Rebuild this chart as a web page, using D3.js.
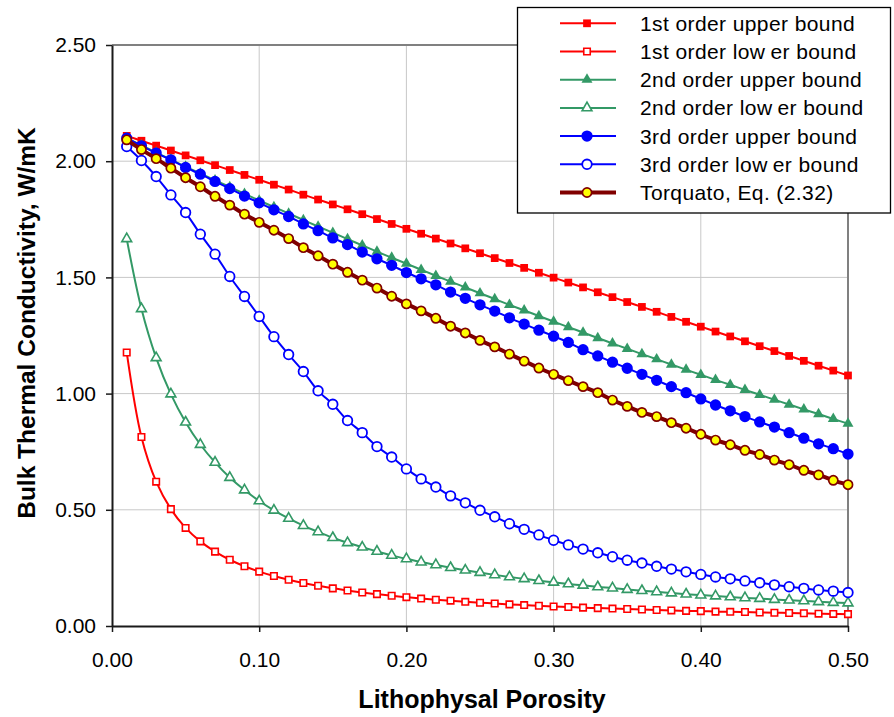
<!DOCTYPE html>
<html>
<head>
<meta charset="utf-8">
<script src="https://cdn.jsdelivr.net/npm/d3@7"></script>
<style>
  body { margin: 0; background: #ffffff; }
  svg { display: block; font-family: "Liberation Sans", Arial, sans-serif; }
</style>
</head>
<body>
<svg id="chart" width="894" height="717"></svg>
<script>
// Lithophysal porosity (volume fraction of voids)
const porosity = [
  0.01, 0.02, 0.03, 0.04, 0.05, 0.06, 0.07, 0.08, 0.09, 0.10,
  0.11, 0.12, 0.13, 0.14, 0.15, 0.16, 0.17, 0.18, 0.19, 0.20,
  0.21, 0.22, 0.23, 0.24, 0.25, 0.26, 0.27, 0.28, 0.29, 0.30,
  0.31, 0.32, 0.33, 0.34, 0.35, 0.36, 0.37, 0.38, 0.39, 0.40,
  0.41, 0.42, 0.43, 0.44, 0.45, 0.46, 0.47, 0.48, 0.49, 0.50
];

// Bulk thermal conductivity, W/mK
const firstUpper = [
  2.109, 2.088, 2.067, 2.046, 2.025, 2.004, 1.983, 1.962, 1.941, 1.920,
  1.899, 1.878, 1.856, 1.835, 1.814, 1.793, 1.772, 1.751, 1.730, 1.709,
  1.688, 1.667, 1.646, 1.625, 1.604, 1.583, 1.562, 1.541, 1.520, 1.499,
  1.478, 1.457, 1.436, 1.415, 1.394, 1.373, 1.352, 1.330, 1.309, 1.288,
  1.267, 1.246, 1.225, 1.204, 1.183, 1.162, 1.141, 1.120, 1.099, 1.078
];
const firstLower = [
  1.177, 0.813, 0.621, 0.503, 0.422, 0.364, 0.320, 0.285, 0.257, 0.234,
  0.215, 0.199, 0.185, 0.173, 0.162, 0.153, 0.144, 0.137, 0.130, 0.124,
  0.118, 0.113, 0.109, 0.104, 0.100, 0.097, 0.093, 0.090, 0.087, 0.084,
  0.082, 0.079, 0.077, 0.075, 0.073, 0.071, 0.069, 0.067, 0.065, 0.064,
  0.062, 0.061, 0.060, 0.058, 0.057, 0.056, 0.055, 0.053, 0.052, 0.051
];
const secondUpper = [
  2.099, 2.068, 2.037, 2.007, 1.977, 1.947, 1.918, 1.889, 1.860, 1.831,
  1.803, 1.775, 1.747, 1.719, 1.692, 1.665, 1.638, 1.611, 1.585, 1.559,
  1.533, 1.507, 1.482, 1.457, 1.432, 1.407, 1.382, 1.358, 1.334, 1.310,
  1.286, 1.263, 1.239, 1.216, 1.193, 1.170, 1.148, 1.125, 1.103, 1.081,
  1.059, 1.038, 1.016, 0.995, 0.974, 0.953, 0.932, 0.912, 0.891, 0.871
];
const secondLower = [
  1.666, 1.365, 1.154, 0.998, 0.877, 0.781, 0.704, 0.639, 0.585, 0.538,
  0.498, 0.463, 0.432, 0.405, 0.380, 0.358, 0.339, 0.321, 0.304, 0.289,
  0.275, 0.263, 0.251, 0.240, 0.230, 0.220, 0.211, 0.203, 0.195, 0.188,
  0.181, 0.175, 0.168, 0.163, 0.157, 0.152, 0.147, 0.142, 0.137, 0.133,
  0.129, 0.125, 0.121, 0.118, 0.114, 0.111, 0.108, 0.104, 0.101, 0.099
];
const thirdUpper = [
  2.099, 2.066, 2.035, 2.006, 1.973, 1.944, 1.913, 1.882, 1.850, 1.821,
  1.791, 1.762, 1.730, 1.701, 1.670, 1.641, 1.609, 1.580, 1.552, 1.521,
  1.494, 1.468, 1.437, 1.410, 1.382, 1.355, 1.326, 1.299, 1.273, 1.247,
  1.220, 1.189, 1.162, 1.135, 1.109, 1.083, 1.057, 1.030, 1.004, 0.977,
  0.951, 0.926, 0.901, 0.878, 0.856, 0.832, 0.808, 0.784, 0.763, 0.740
];
const thirdLower = [
  2.063, 2.003, 1.934, 1.855, 1.779, 1.686, 1.600, 1.504, 1.418, 1.332,
  1.245, 1.168, 1.095, 1.012, 0.954, 0.884, 0.832, 0.772, 0.727, 0.676,
  0.633, 0.598, 0.560, 0.530, 0.498, 0.470, 0.440, 0.416, 0.392, 0.369,
  0.349, 0.331, 0.315, 0.298, 0.283, 0.271, 0.257, 0.245, 0.233, 0.222,
  0.211, 0.203, 0.194, 0.186, 0.177, 0.169, 0.162, 0.155, 0.150, 0.144
];
const torquato = [
  2.092, 2.050, 2.011, 1.970, 1.929, 1.890, 1.849, 1.811, 1.772, 1.737,
  1.703, 1.667, 1.628, 1.593, 1.557, 1.522, 1.488, 1.454, 1.419, 1.386,
  1.356, 1.324, 1.290, 1.261, 1.229, 1.201, 1.170, 1.140, 1.110, 1.083,
  1.056, 1.030, 1.004, 0.972, 0.945, 0.919, 0.901, 0.875, 0.851, 0.825,
  0.800, 0.780, 0.756, 0.738, 0.714, 0.694, 0.670, 0.650, 0.627, 0.608
];

const xTicks = [0.00, 0.10, 0.20, 0.30, 0.40, 0.50];
const yTicks = [0.00, 0.50, 1.00, 1.50, 2.00, 2.50];
const xTitle = "Lithophysal Porosity";
const yTitle = "Bulk Thermal Conductivity, W/mK";

// Series definitions: label parts (the second part is offset a little, as the legend renders it), styling
const series = [
  { label: ["1st order upper bound"], values: firstUpper, color: "#ff0000", width: 2,
    symbol: d3.symbolSquare, size: 60, fill: "#ff0000", stroke: "none", sw: 0 },
  { label: ["1st order low", "er bound"], values: firstLower, color: "#ff0000", width: 2,
    symbol: d3.symbolSquare, size: 42, fill: "#ffffff", stroke: "#ff0000", sw: 1.6 },
  { label: ["2nd order upper bound"], values: secondUpper, color: "#339966", width: 2,
    symbol: d3.symbolTriangle, size: 52, fill: "#339966", stroke: "none", sw: 0 },
  { label: ["2nd order low", "er bound"], values: secondLower, color: "#339966", width: 2,
    symbol: d3.symbolTriangle, size: 42, fill: "#ffffff", stroke: "#339966", sw: 1.6 },
  { label: ["3rd order upper bound"], values: thirdUpper, color: "#0000ff", width: 2,
    symbol: d3.symbolCircle, size: 100, fill: "#0000ff", stroke: "none", sw: 0 },
  { label: ["3rd order low", "er bound"], values: thirdLower, color: "#0000ff", width: 2,
    symbol: d3.symbolCircle, size: 72, fill: "#ffffff", stroke: "#0000ff", sw: 1.8 },
  { label: ["Torquato, Eq. (2.32)"], values: torquato, color: "#800000", width: 4,
    symbol: d3.symbolCircle, size: 66, fill: "#ffff00", stroke: "#800000", sw: 1.7 }
];

const svg = d3.select("#chart");
const plot = { left: 112, right: 848, top: 45, bottom: 626 };

const x = d3.scaleLinear().domain([0, 0.5]).range([plot.left, plot.right]);
const y = d3.scaleLinear().domain([0, 2.5]).range([plot.bottom, plot.top]);

// Gridlines
const grid = svg.append("g").attr("stroke", "#c8c8c8").attr("stroke-width", 1);
grid.selectAll("line.v").data(xTicks.filter(d => d > 0 && d < 0.5)).join("line")
  .attr("x1", d => x(d)).attr("x2", d => x(d))
  .attr("y1", plot.top).attr("y2", plot.bottom);
grid.selectAll("line.h").data(yTicks.filter(d => d > 0 && d < 2.5)).join("line")
  .attr("x1", plot.left).attr("x2", plot.right)
  .attr("y1", d => y(d)).attr("y2", d => y(d));

// Plot-area frame (top and right)
svg.append("path")
  .attr("d", `M${plot.left},${y(2.5)}H${x(0.5)}V${plot.bottom}`)
  .attr("fill", "none").attr("stroke", "#808080").attr("stroke-width", 2);

// Axes
const fmt = d3.format(".2f");
const yAxis = svg.append("g").attr("transform", `translate(${plot.left},0)`)
  .call(d3.axisLeft(y).tickValues(yTicks).tickFormat(fmt).tickSize(6).tickSizeOuter(0).tickPadding(10));
const xAxis = svg.append("g").attr("transform", `translate(0,${plot.bottom})`)
  .call(d3.axisBottom(x).tickValues(xTicks).tickFormat(fmt).tickSize(6).tickSizeOuter(0).tickPadding(20));
[xAxis, yAxis].forEach(a => {
  a.select(".domain").attr("stroke", "#1a1a1a").attr("stroke-width", 2);
  a.selectAll(".tick line").attr("stroke", "#1a1a1a").attr("stroke-width", 1.5);
  a.selectAll(".tick text").attr("font-size", 21).attr("fill", "#000")
    .attr("font-family", "'Liberation Sans', Arial, sans-serif");
});

// Axis titles
svg.append("text")
  .attr("x", 482).attr("y", 708)
  .attr("text-anchor", "middle").attr("font-size", 25).attr("font-weight", "bold")
  .text(xTitle);
svg.append("text")
  .attr("transform", "translate(35,323) rotate(-90)")
  .attr("text-anchor", "middle").attr("font-size", 24.5).attr("font-weight", "bold")
  .text(yTitle);

// Series: smoothed line plus markers
const line = d3.line()
  .x((d, i) => x(porosity[i]))
  .y(d => y(d))
  .curve(d3.curveCatmullRom.alpha(0.5));

series.forEach(s => {
  const g = svg.append("g");
  g.append("path")
    .attr("d", line(s.values))
    .attr("fill", "none").attr("stroke", s.color).attr("stroke-width", s.width)
    .attr("stroke-linejoin", "round");
  g.selectAll("path.m").data(s.values).join("path")
    .attr("class", "m")
    .attr("transform", (d, i) => `translate(${x(porosity[i])},${y(d)})`)
    .attr("d", d3.symbol().type(s.symbol).size(s.size))
    .attr("fill", s.fill).attr("stroke", s.stroke).attr("stroke-width", s.sw);
});

// Legend
const legend = svg.append("g");
legend.append("rect")
  .attr("x", 517.5).attr("y", 7.5).attr("width", 373).attr("height", 205.5)
  .attr("fill", "#ffffff").attr("stroke", "#000000").attr("stroke-width", 1.3);
series.forEach((s, i) => {
  const cy = 23.3 + i * 28.2;
  const row = legend.append("g");
  row.append("line")
    .attr("x1", 560).attr("x2", 616).attr("y1", cy).attr("y2", cy)
    .attr("stroke", s.color).attr("stroke-width", s.width);
  row.append("path")
    .attr("transform", `translate(587,${cy})`)
    .attr("d", d3.symbol().type(s.symbol).size(s.size))
    .attr("fill", s.fill).attr("stroke", s.stroke).attr("stroke-width", s.sw);
  const t = row.append("text")
    .attr("x", 640).attr("y", cy + 7.4)
    .attr("font-size", 21).attr("letter-spacing", 0.4).attr("fill", "#000");
  t.append("tspan").text(s.label[0]);
  if (s.label.length > 1) t.append("tspan").attr("dx", 5).text(s.label[1]);
});
</script>
</body>
</html>
